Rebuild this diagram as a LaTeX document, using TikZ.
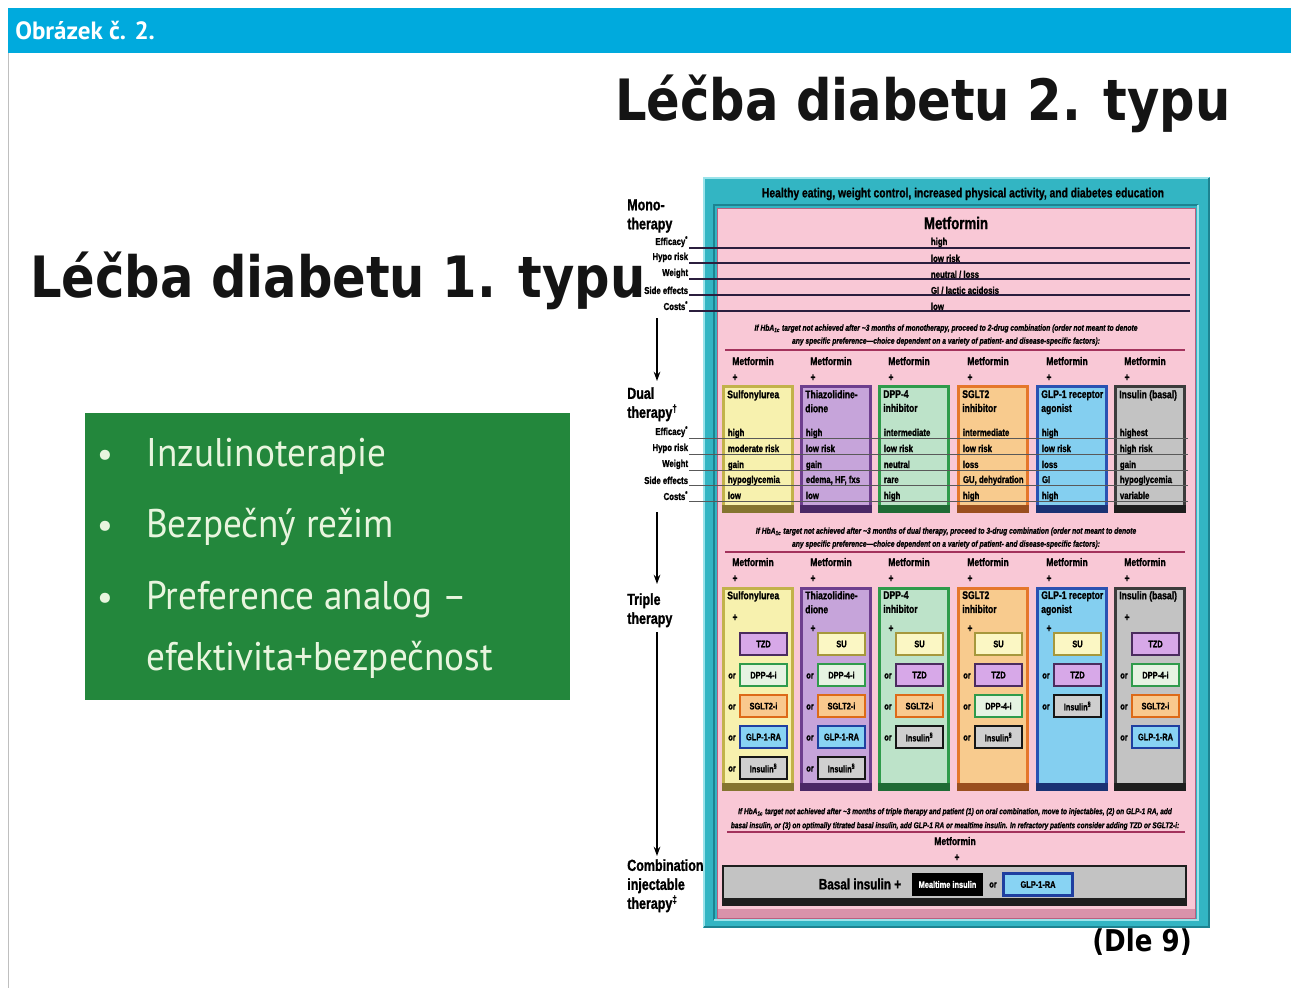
\documentclass[tikz,border=0pt]{standalone}
\usepackage{fontspec}
\usetikzlibrary{arrows.meta}
\setmainfont{Liberation Sans}
\newfontfamily\nar[FakeStretch=0.78, UprightFont={Liberation Sans}, BoldFont={Liberation Sans Bold}, ItalicFont={Liberation Sans Italic}, BoldItalicFont={Liberation Sans Bold Italic}, BoldFeatures={FakeBold=1.2}, BoldItalicFeatures={FakeBold=1.0}]{Liberation Sans}
\newfontfamily\ttl[FakeStretch=0.87]{DejaVu Sans}
\newfontfamily\pts{PT Sans}
\newfontfamily\ptn[FakeStretch=0.93]{PT Sans}
\newcommand\px[1]{\fontsize{\fpeval{#1*0.75}pt}{\fpeval{#1*0.9}pt}\selectfont}
\newcommand\pxl[2]{\fontsize{\fpeval{#1*0.75}pt}{\fpeval{#2*0.75}pt}\selectfont}
\definecolor{hdr}{HTML}{00AADD}
\definecolor{grn}{HTML}{23873C}
\definecolor{gtxt}{HTML}{E8F5DE}
\definecolor{tealF}{HTML}{33B5C3}
\definecolor{tealL}{HTML}{9BE3EA}
\definecolor{tealD}{HTML}{1D8391}
\definecolor{pinkF}{HTML}{F9C8D6}
\definecolor{pinkD}{HTML}{D992AA}
\definecolor{pinkB}{HTML}{B9607F}
\definecolor{maroon}{HTML}{A3325C}
\definecolor{mline}{HTML}{2B1E3E}
% column colours
\definecolor{suF}{HTML}{F7F1AE}\definecolor{suB}{HTML}{C2B24A}\definecolor{suS}{HTML}{857530}
\definecolor{tzdF}{HTML}{C6A4DA}\definecolor{tzdB}{HTML}{6E3F8E}\definecolor{tzdS}{HTML}{4A2866}
\definecolor{dppF}{HTML}{BDE3C9}\definecolor{dppB}{HTML}{2F9B4B}\definecolor{dppS}{HTML}{1F6B35}
\definecolor{sgltF}{HTML}{F8CB8E}\definecolor{sgltB}{HTML}{E5772B}\definecolor{sgltS}{HTML}{9A4F1E}
\definecolor{glpF}{HTML}{84CFF0}\definecolor{glpB}{HTML}{2B52B2}\definecolor{glpS}{HTML}{1A3274}
\definecolor{insF}{HTML}{C3C3C3}\definecolor{insB}{HTML}{3C3C3C}\definecolor{insS}{HTML}{1E1E1E}
% sub-box colours
\definecolor{suSF}{HTML}{FBF7C4}\definecolor{suSB}{HTML}{A6983C}
\definecolor{tzdSF}{HTML}{D7A8E8}\definecolor{tzdSB}{HTML}{4B2B5E}
\definecolor{dppSF}{HTML}{E6F3E2}\definecolor{dppSB}{HTML}{2F9B4B}
\definecolor{sgltSF}{HTML}{F9C98E}\definecolor{sgltSB}{HTML}{DD6A18}
\definecolor{glpSF}{HTML}{88D3F3}\definecolor{glpSB}{HTML}{1F3FA0}
\definecolor{insSF}{HTML}{CFCFCF}\definecolor{insSB}{HTML}{161616}
\def\lblsu{SU}\def\lbltzd{TZD}\def\lbldpp{DPP-4-i}\def\lblsglt{SGLT2-i}
\def\lblglp{GLP-1-RA}\def\lblins{Insulin\textsuperscript{§}}
\tikzset{
  lab/.style={font=\nar\bfseries\px{10}, inner sep=0.5pt},
  val/.style={font=\nar\bfseries\px{10}, inner sep=0.5pt},
  side/.style={font=\nar\bfseries\pxl{16}{19}, inner sep=0pt, align=left, anchor=north west},
  trans/.style={font=\nar\bfseries\itshape\pxl{8.6}{13}, align=center, inner sep=0pt},
  sm/.style={font=\nar\bfseries\px{11}, inner sep=0pt},
  bt/.style={font=\nar\bfseries\pxl{11}{14}, inner sep=0pt, align=left, anchor=north west},
  sb/.style={font=\nar\bfseries\px{9.5}, inner sep=0pt, minimum width=35.25pt, minimum height=16.5pt, line width=1.5pt},
  mono/.style={draw=mline, line width=1.2pt},
  dline/.style={draw=black!65, line width=0.5pt},
  sepline/.style={draw=maroon, line width=2pt},
  flow/.style={draw=black, line width=1.1pt, -{Stealth[length=7pt,width=5pt]}},
}
\begin{document}
\begin{tikzpicture}[x=0.75pt,y=-0.75pt]
\useasboundingbox (0,0) rectangle (1291,988);
\fill[white] (0,0) rectangle (1291,988);
% header
\fill[hdr] (8,8) rectangle (1291,53);
\draw[black!25, line width=0.75pt] (8,53) -- (8,988);
\node[anchor=base west, font=\pts\bfseries\px{25}, text=white, inner sep=0] (hd) at (15,40) {Obrázek č. 2.};
% titles
\node[anchor=base west, font=\ttl\bfseries\px{57}, text=black!92, inner sep=0] (t2) at (615,121) {Léčba diabetu 2. typu};
\node[anchor=base west, font=\ttl\bfseries\px{57}, text=black!92, inner sep=0] (t1) at (30,297) {Léčba diabetu 1. typu};
% green box
\fill[grn] (85,413) rectangle (570,700);
\foreach \yy/\tx [count=\i] in {466/Inzulinoterapie, 537/Bezpečný režim, 609/Preference analog –}{
  \node[anchor=base, font=\pts\px{36}, text=gtxt, inner sep=0] (bu\i) at (105,\yy) {•};
  \node[anchor=base west, font=\ptn\px{40}, text=gtxt, inner sep=0] (bt\i) at (146,\yy) {\tx};
}
\node[anchor=base west, font=\ptn\px{40}, text=gtxt, inner sep=0] (bt4) at (146,670) {efektivita+bezpečnost};
% chart frame
\fill[tealF] (703,177) rectangle (1210,928);
\draw[tealL, line width=1.5pt] (704,927) -- (704,178) -- (1209,178);
\draw[tealD, line width=1.5pt] (1209,178) -- (1209,927) -- (704,927);
\draw[tealD, line width=1.5pt] (714,920) -- (714,205) -- (1198,205);
\draw[tealL, line width=1.5pt] (1198,205) -- (1198,920) -- (714,920);
\fill[pinkF] (717,208) rectangle (1195,918);
\fill[pinkD] (717,909) rectangle (1195,918);
\draw[pinkB, line width=0.75pt] (717,208) rectangle (1195,918);
\node[font=\nar\bfseries\px{13.2}, inner sep=0] (hl) at (963,194) {Healthy eating, weight control, increased physical activity, and diabetes education};
\node[font=\nar\bfseries\px{17}, inner sep=0] (mm) at (956,223) {Metformin};
% monotherapy rows
\foreach \yy/\lb/\vl [count=\i] in {248/{Efficacy\textsuperscript{*}}/high, 263/{Hypo risk}/{low risk}, 279/Weight/{neutral / loss}, 295/{Side effects}/{GI / lactic acidosis}, 311/{Costs\textsuperscript{*}}/low}{
  \node[lab, anchor=south east] (ml\i) at (689,\yy) {\lb};
  \coordinate (me\i) at (1190,\yy);
  \draw[mono] (ml\i.south east) -- (me\i);
  \node[val, anchor=south west] (mv\i) at (930,\yy) {\vl};
}
\node[side] (lmono) at (627,199) {Mono-\\therapy};
\node[trans] (tr1) at (946,335) {If HbA\textsubscript{1c} target not achieved after \textasciitilde3 months of monotherapy, proceed to 2-drug combination (order not meant to denote\\any specific preference—choice dependent on a variety of patient- and disease-specific factors):};
\coordinate (s1a) at (725,350); \coordinate (s1b) at (1185,350);
\draw[sepline] (s1a) -- (s1b);
% dual therapy
\foreach \x/\c/\nm/\va/\vb/\vc/\vd/\ve [count=\i] in {
  722/su/Sulfonylurea/high/moderate risk/gain/hypoglycemia/low,
  800/tzd/Thiazolidine-\\dione/high/low risk/gain/{edema, HF, fxs}/low,
  878/dpp/DPP-4\\inhibitor/intermediate/low risk/neutral/rare/high,
  957/sglt/SGLT2\\inhibitor/intermediate/low risk/loss/{GU, dehydration}/high,
  1036/glp/GLP-1 receptor\\agonist/high/low risk/loss/GI/high,
  1114/ins/Insulin (basal)/highest/high risk/gain/hypoglycemia/variable}{
  \node[sm, anchor=base west] (dm\i) at (\x+10,365) {Metformin};
  \node[sm, anchor=base] (dp\i) at (\x+13,381) {+};
  \draw[\c B, line width=1.8pt, fill=\c F] (\x+1.5,386.5) rectangle (\x+70.5,511.5);
  \fill[\c S] (\x,505) rectangle (\x+72,513);
  \node[bt] (dn\i) at (\x+5,390) {\nm};
  \node[val, anchor=base west] (dva\i) at (\x+5,436) {\va};
  \node[val, anchor=base west] (dvb\i) at (\x+5,452) {\vb};
  \node[val, anchor=base west] (dvc\i) at (\x+5,468) {\vc};
  \node[val, anchor=base west] (dvd\i) at (\x+5,483) {\vd};
  \node[val, anchor=base west] (dve\i) at (\x+5,499) {\ve};
}
\foreach \yy/\lb [count=\i] in {438/{Efficacy\textsuperscript{*}}, 454/{Hypo risk}, 470/Weight, 485/{Side effects}, 501/{Costs\textsuperscript{*}}}{
  \node[lab, anchor=south east] (dl\i) at (689,\yy) {\lb};
  \coordinate (de\i) at (1188,\yy);
  \draw[dline] (dl\i.south east) -- (de\i);
}
\node[side] (ldual) at (627,387) {Dual\\therapy\textsuperscript{†}};
\node[trans] (tr2) at (946,538) {If HbA\textsubscript{1c} target not achieved after \textasciitilde3 months of dual therapy, proceed to 3-drug combination (order not meant to denote\\any specific preference—choice dependent on a variety of patient- and disease-specific factors):};
\coordinate (s2a) at (725,552); \coordinate (s2b) at (1185,552);
\draw[sepline] (s2a) -- (s2b);
% triple therapy
\foreach \x/\c/\nm/\py/\lst [count=\i] in {
  722/su/Sulfonylurea/621/{tzd,dpp,sglt,glp,ins},
  800/tzd/Thiazolidine-\\dione/632/{su,dpp,sglt,glp,ins},
  878/dpp/DPP-4\\inhibitor/632/{su,tzd,sglt,ins},
  957/sglt/SGLT2\\inhibitor/632/{su,tzd,dpp,ins},
  1036/glp/GLP-1 receptor\\agonist/632/{su,tzd,ins},
  1114/ins/Insulin (basal)/621/{tzd,dpp,sglt,glp}}{
  \node[sm, anchor=base west] (tm\i) at (\x+10,566) {Metformin};
  \node[sm, anchor=base] (tp\i) at (\x+13,582) {+};
  \draw[\c B, line width=1.8pt, fill=\c F] (\x+1.5,588.5) rectangle (\x+70.5,789.5);
  \fill[\c S] (\x,783) rectangle (\x+72,791);
  \node[bt] (tn\i) at (\x+5,591) {\nm};
  \node[sm, anchor=base] (tq\i) at (\x+13,\py) {+};
  \foreach \k [count=\r] in \lst {
    \node[sb, fill=\k SF, draw=\k SB] (s\i-\r) at (\x+41.5,613+31*\r) {\csname lbl\k\endcsname};
    \ifnum\r>1 \node[font=\nar\bfseries\px{9.5}, inner sep=0] (o\i-\r) at (\x+10,614+31*\r) {or};\fi
  }
}
\node[side] (ltrip) at (627,593) {Triple\\therapy};
\node[trans, font=\nar\bfseries\itshape\pxl{8.4}{14}] (tr3) at (955,819) {If HbA\textsubscript{1c} target not achieved after \textasciitilde3 months of triple therapy and patient (1) on oral combination, move to injectables, (2) on GLP-1 RA, add\\basal insulin, or (3) on optimally titrated basal insulin, add GLP-1 RA or mealtime insulin. In refractory patients consider adding TZD or SGLT2-i:};
\coordinate (s3a) at (727,832); \coordinate (s3b) at (1185,832);
\draw[draw=maroon, line width=1pt] (s3a) -- (s3b);
\node[sm, anchor=base] (bm) at (955,845) {Metformin};
\node[sm, anchor=base] (bp) at (957,861) {+};
% combination box
\draw[insS, line width=2pt, fill=insF] (723,866) rectangle (1186,905);
\fill[insS] (722,898) rectangle (1187,906);
\node[font=\nar\bfseries\px{15}, inner sep=0] (bi) at (860,884) {Basal insulin +};
\node[fill=black, text=white, font=\nar\bfseries\px{9.5}, minimum width=53.25pt, minimum height=17.25pt, inner sep=0] (mi) at (947.5,884.5) {Mealtime insulin};
\node[font=\nar\bfseries\px{9.5}, inner sep=0] (bo) at (993,885) {or};
\node[fill=glpSF, draw=glpSB, line width=1.8pt, font=\nar\bfseries\px{9.5}, minimum width=52pt, minimum height=16.5pt, inner sep=0] (bg) at (1038,884.5) {GLP-1-RA};
\node[side] (lcomb) at (627,859) {Combination\\injectable\\therapy\textsuperscript{‡}};
% flow arrows
\coordinate (a1s) at (657,318); \coordinate (a1e) at (657,381);
\coordinate (a2s) at (657,512); \coordinate (a2e) at (657,584);
\coordinate (a3s) at (657,632); \coordinate (a3e) at (657,856);
\draw[flow] (a1s) -- (a1e);
\draw[flow] (a2s) -- (a2e);
\draw[flow] (a3s) -- (a3e);
% source
\node[anchor=base west, font=\ttl\bfseries\px{30}, inner sep=0] (dle) at (1092,951) {(Dle 9)};
\end{tikzpicture}
\end{document}
